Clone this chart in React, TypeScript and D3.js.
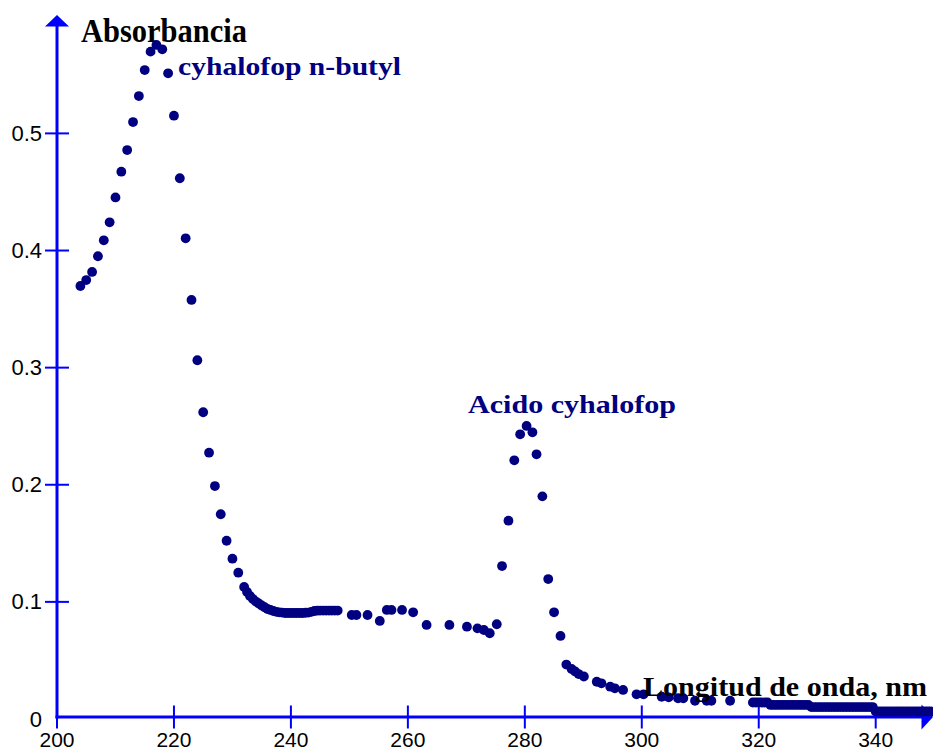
import React from "react";
import * as d3 from "d3";

// Wavelength (nm) and absorbance
const wavelength: number[] = [
  204, 205, 206, 207, 208, 209, 210, 211, 212, 213, 214, 215, 216, 217, 218, 219,
  220, 221, 222, 223, 224, 225, 226, 227, 228, 229, 230, 231, 232, 232.5, 233, 233.5,
  234, 234.5, 235, 235.5, 236, 236.5, 237, 237.5, 238, 238.5, 239, 239.5, 240, 240.5,
  241, 241.5, 242, 242.5, 243, 243.5, 244, 244.5, 245, 245.5, 246, 246.5, 247, 247.5, 248,
  250.4, 251.2, 253.1, 255.2, 256.4, 257.2, 259.0, 260.9, 263.2, 267.1, 270.1, 271.9,
  273.0, 274.0, 275.2, 276.1, 277.2, 278.2, 279.2, 280.3, 281.3, 282.0, 283.0, 284.0,
  285.0, 286.1, 287.1, 288.0, 288.6, 289.2, 290.1, 292.3, 293.1, 294.6, 295.4, 296.8,
  299.1, 300.3, 303.4, 304.6, 306.2, 307.1, 309.1, 311.1, 311.9, 315.1,
  319, 319.5, 320, 320.5, 321, 321.5,
  322, 322.5, 323, 323.5, 324, 324.5, 325, 325.5, 326, 326.5, 327, 327.5, 328, 328.5,
  329, 329.5, 330, 330.5, 331, 331.5, 332, 332.5, 333, 333.5, 334, 334.5, 335, 335.5,
  336, 336.5, 337, 337.5, 338, 338.5, 339, 339.5,
  340, 340.5, 341, 341.5, 342, 342.5, 343, 343.5, 344, 344.5, 345, 345.5, 346, 346.5,
  347, 347.5, 348, 348.5, 349, 349.5,
];

const absorbance: number[] = [
  0.3697, 0.3748, 0.3817, 0.3951, 0.4087, 0.4241, 0.4453, 0.4673, 0.4858, 0.5097, 0.5319, 0.5541, 0.5698, 0.5755, 0.5718, 0.5513,
  0.5151, 0.4617, 0.4104, 0.3578, 0.3063, 0.2619, 0.2274, 0.1989, 0.1748, 0.1522, 0.1369, 0.1249, 0.1127, 0.1085, 0.1050, 0.1025,
  0.1003, 0.0986, 0.0969, 0.0954, 0.0939, 0.0931, 0.0922, 0.0915, 0.0911, 0.0908, 0.0905, 0.0905, 0.0905, 0.0905,
  0.0905, 0.0905, 0.0905, 0.0907, 0.0909, 0.0915, 0.0922, 0.0925, 0.0926, 0.0926, 0.0926, 0.0926, 0.0926, 0.0926, 0.0926,
  0.0888, 0.0888, 0.0888, 0.0837, 0.0931, 0.0931, 0.0931, 0.0911, 0.0803, 0.0803, 0.0788, 0.0774,
  0.0760, 0.0732, 0.0809, 0.1306, 0.1693, 0.2209, 0.2431, 0.2502, 0.2448, 0.2260, 0.1901, 0.1195,
  0.0911, 0.0709, 0.0465, 0.0427, 0.0406, 0.0384, 0.0363, 0.0318, 0.0305, 0.0276, 0.0262, 0.0248,
  0.0211, 0.0211, 0.0190, 0.0185, 0.0177, 0.0177, 0.0156, 0.0156, 0.0156, 0.0156,
  0.0141, 0.0141, 0.0141, 0.0141, 0.0141, 0.0141,
  0.0120, 0.0120, 0.0120, 0.0120, 0.0120, 0.0120, 0.0120, 0.0120, 0.0120, 0.0120, 0.0120, 0.0120, 0.0120, 0.0120,
  0.0102, 0.0102, 0.0102, 0.0102, 0.0102, 0.0102, 0.0102, 0.0102, 0.0102, 0.0102, 0.0102, 0.0102, 0.0102, 0.0102,
  0.0102, 0.0102, 0.0102, 0.0102, 0.0102, 0.0102, 0.0102, 0.0102,
  0.0064, 0.0064, 0.0064, 0.0064, 0.0064, 0.0064, 0.0064, 0.0064, 0.0064, 0.0064, 0.0064, 0.0064, 0.0064, 0.0064,
  0.0064, 0.0064, 0.0064, 0.0064, 0.0064, 0.0064,
];

const xTicks: number[] = [200, 220, 240, 260, 280, 300, 320, 340];
const yTicks: number[] = [0.1, 0.2, 0.3, 0.4, 0.5];
const yTickLabels: string[] = ["0.1", "0.2", "0.3", "0.4", "0.5"];

const yAxisTitle = "Absorbancia";
const xAxisTitle = "Longitud de onda, nm";
const peakLabels: string[] = ["cyhalofop n-butyl", "Acido cyhalofop"];

const W = 933;
const H = 752;
const AXIS = "#0000ff";
const DOT = "#000080";

export default function App() {
  const x = d3.scaleLinear().domain([200, 340]).range([57, 875.7]);
  const y = d3.scaleLinear().domain([0, 0.5]).range([719, 133.4]);
  const axisY = 717;
  const axisX = x(200);

  const points = wavelength.map((w, i) => ({ w, a: absorbance[i] }));

  return (
    <svg
      width={W}
      height={H}
      style={{ position: "fixed", left: 0, top: 0, background: "#fff" }}
    >
      <rect x={0} y={0} width={W} height={H} fill="#fff" />
      {/* axes */}
      <line x1={axisX} y1={24} x2={axisX} y2={axisY + 1.5} stroke={AXIS} strokeWidth={3} />
      <path d={`M${axisX},15 L${axisX - 12},26.5 L${axisX + 12},26.5 Z`} fill={AXIS} />
      <line x1={axisX - 1.5} y1={axisY} x2={924} y2={axisY} stroke={AXIS} strokeWidth={3} />
      <path d={`M933,${axisY} L921.5,${axisY - 12.5} L921.5,${axisY + 12.5} Z`} fill={AXIS} />

      {/* x ticks */}
      {xTicks.map((t) => (
        <g key={"xt" + t}>
          <line x1={x(t)} x2={x(t)} y1={axisY - 11.5} y2={axisY + 11.5} stroke={AXIS} strokeWidth={2} />
          <text
            x={x(t)}
            y={747}
            textAnchor="middle"
            fontFamily="'Liberation Sans', Arial, sans-serif"
            fontSize={21}
            fill="#000"
          >
            {t}
          </text>
        </g>
      ))}
      {/* y ticks */}
      {yTicks.map((t, i) => (
        <g key={"yt" + t}>
          <line x1={axisX - 12} x2={axisX + 12} y1={y(t)} y2={y(t)} stroke={AXIS} strokeWidth={2} />
          <text
            x={42}
            y={y(t) + 7.5}
            textAnchor="end"
            fontFamily="'Liberation Sans', Arial, sans-serif"
            fontSize={22}
            fill="#000"
          >
            {yTickLabels[i]}
          </text>
        </g>
      ))}
      <text
        x={42}
        y={y(0) + 7.5}
        textAnchor="end"
        fontFamily="'Liberation Sans', Arial, sans-serif"
        fontSize={22}
        fill="#000"
      >
        0
      </text>

      {/* points */}
      {points.map((p, i) => (
        <circle key={i} cx={x(p.w)} cy={y(p.a)} r={4.9} fill={DOT} />
      ))}

      {/* titles */}
      <text
        x={81}
        y={41.5}
        fontFamily="'Liberation Serif', 'Times New Roman', serif"
        fontWeight="bold"
        fontSize={33}
        textLength={166}
        lengthAdjust="spacingAndGlyphs"
        fill="#000"
      >
        {yAxisTitle}
      </text>
      <text
        x={643}
        y={696}
        fontFamily="'Liberation Serif', 'Times New Roman', serif"
        fontWeight="bold"
        fontSize={28}
        textLength={284}
        lengthAdjust="spacingAndGlyphs"
        fill="#000"
      >
        {xAxisTitle}
      </text>
      <text
        x={178}
        y={75}
        fontFamily="'Liberation Serif', 'Times New Roman', serif"
        fontWeight="bold"
        fontSize={25}
        textLength={223}
        lengthAdjust="spacingAndGlyphs"
        fill={DOT}
      >
        {peakLabels[0]}
      </text>
      <text
        x={468}
        y={413}
        fontFamily="'Liberation Serif', 'Times New Roman', serif"
        fontWeight="bold"
        fontSize={26}
        textLength={208}
        lengthAdjust="spacingAndGlyphs"
        fill={DOT}
      >
        {peakLabels[1]}
      </text>
    </svg>
  );
}
